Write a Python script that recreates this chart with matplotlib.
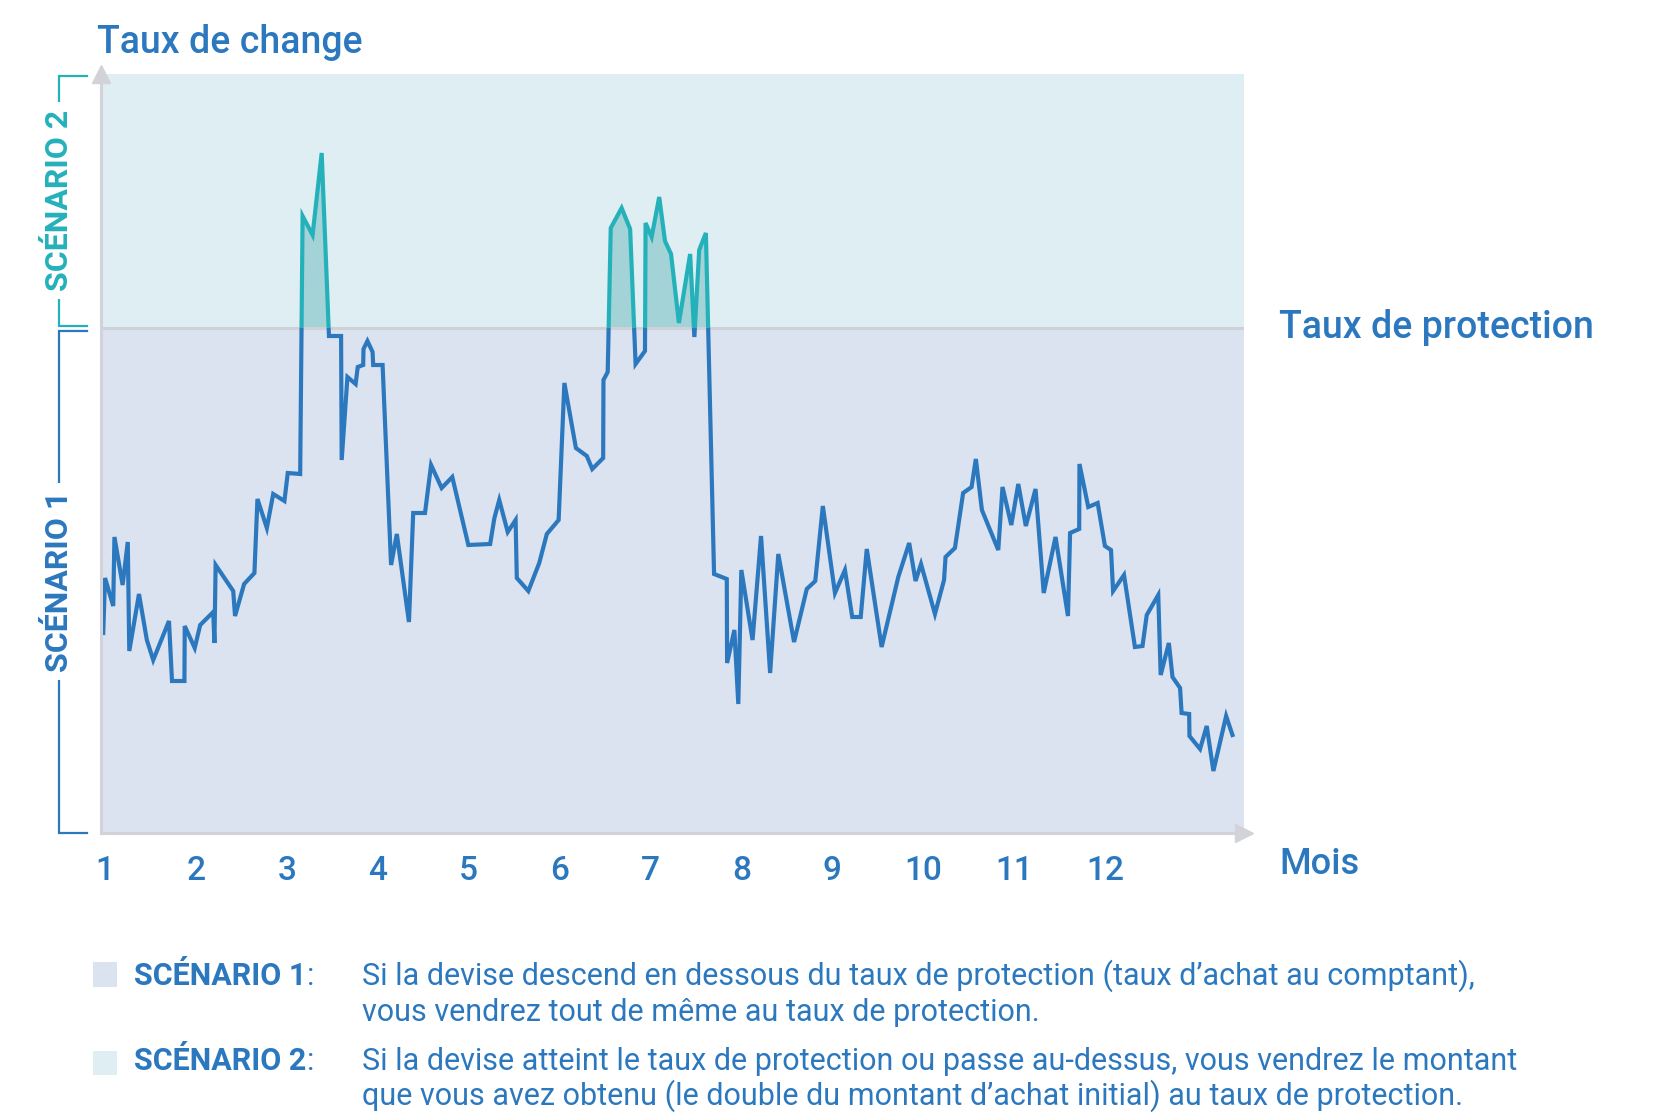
import matplotlib
matplotlib.use("Agg")
import matplotlib.pyplot as plt
from matplotlib.patches import Rectangle
import matplotlib.transforms as mtransforms
import numpy as np

plt.rcParams['font.family'] = ['Roboto', 'DejaVu Sans']

# ---------------- data ----------------
days = [-0.6, 0.0, 2.7, 3.1, 5.8, 7.5, 8.0, 11.2, 13.8, 15.9, 21.1, 22.1, 26.2, 26.3, 29.6,
        31.4, 35.7, 36.1, 36.5, 42.3, 42.9, 45.9, 49.3, 50.3, 53.4, 55.5, 59.2, 60.3, 64.4,
        65.2, 68.5, 71.5, 73.9, 77.9, 78.1, 80.0, 82.7, 83.4, 85.2, 85.3, 86.6, 88.3, 88.5,
        91.6, 94.4, 96.3, 100.3, 101.7, 105.6, 107.6, 111.1, 114.6, 119.9, 127.1, 128.5,
        130.1, 132.9, 135.5, 135.9, 139.7, 143.3, 145.8, 149.7, 151.6, 155.4, 159.0, 160.8,
        164.4, 164.5, 165.9, 166.9, 170.5, 173.3, 175.1, 178.2, 178.4, 180.4, 182.9, 184.8,
        186.8, 189.4, 193.1, 194.5, 196.1, 198.3, 201.0, 205.2, 205.3, 207.7, 209.0, 210.0,
        213.7, 216.5, 219.5, 222.2, 227.4, 231.6, 234.4, 236.9, 240.9, 244.2, 246.6, 249.4,
        251.4, 256.3, 261.8, 265.4, 267.5, 269.3, 273.9, 276.9, 277.4, 280.5, 283.2, 286.0,
        287.4, 289.4, 294.8, 296.2, 299.1, 301.4, 303.9, 307.1, 309.8, 313.7, 317.8, 318.5,
        321.5, 321.6, 324.5, 327.6, 330.0, 332.0, 332.7, 336.3, 339.9, 342.4, 343.8, 347.6,
        348.4, 351.1, 352.3, 354.8, 355.3, 357.8, 357.9, 361.4, 363.6, 365.8, 370.0, 372.1]

taux = [1.200, 1.255, 1.227, 1.296, 1.248, 1.291, 1.182, 1.239, 1.193, 1.173, 1.212, 1.152,
        1.152, 1.207, 1.185, 1.208, 1.221, 1.190, 1.268, 1.242, 1.217, 1.249, 1.260, 1.334,
        1.305, 1.339, 1.332, 1.360, 1.359, 1.617, 1.598, 1.680, 1.497, 1.497, 1.373, 1.456,
        1.449, 1.466, 1.468, 1.484, 1.492, 1.481, 1.468, 1.468, 1.268, 1.299, 1.211, 1.320,
        1.320, 1.368, 1.345, 1.356, 1.288, 1.289, 1.315, 1.333, 1.301, 1.313, 1.255, 1.242,
        1.270, 1.299, 1.313, 1.450, 1.385, 1.377, 1.364, 1.375, 1.453, 1.461, 1.605, 1.625,
        1.604, 1.469, 1.482, 1.610, 1.596, 1.636, 1.592, 1.579, 1.510, 1.579, 1.496, 1.583,
        1.600, 1.259, 1.254, 1.170, 1.203, 1.129, 1.263, 1.193, 1.297, 1.160, 1.279, 1.191,
        1.244, 1.252, 1.327, 1.240, 1.263, 1.216, 1.216, 1.284, 1.186, 1.256, 1.290, 1.252,
        1.269, 1.219, 1.253, 1.276, 1.285, 1.340, 1.346, 1.374, 1.323, 1.283, 1.346, 1.308,
        1.349, 1.307, 1.344, 1.240, 1.296, 1.217, 1.300, 1.304, 1.369, 1.326, 1.330, 1.287,
        1.283, 1.242, 1.258, 1.186, 1.187, 1.218, 1.238, 1.158, 1.190, 1.156, 1.145, 1.120,
        1.119, 1.097, 1.084, 1.107, 1.062, 1.117, 1.098]

taux_protection = 1.505
mois = [1, 2, 3, 4, 5, 6, 7, 8, 9, 10, 11, 12]
jours_par_mois = 30

titre_y = "Taux de change"
titre_protection = "Taux de protection"
titre_x = "Mois"
scenarios = ["SCÉNARIO 1", "SCÉNARIO 2"]
descriptions = [
    ["Si la devise descend en dessous du taux de protection (taux d\u2019achat au comptant),",
     "vous vendrez tout de même au taux de protection."],
    ["Si la devise atteint le taux de protection ou passe au-dessus, vous vendrez le montant",
     "que vous avez obtenu (le double du montant d\u2019achat initial) au taux de protection."],
]

# ---------------- style ----------------
BLUE = "#2C78BE"
TEAL = "#25B1BA"
FILL = "#A3D3D7"
BG_LOW = "#DBE2F0"
BG_HIGH = "#DFEEF2"
GRAY = "#D2D3D8"

W, H = 1653, 1120
fig = plt.figure(figsize=(W / 100, H / 100), dpi=100)
ax = fig.add_axes([100.5 / W, 1 - 833 / H, 1143.5 / W, 759 / H])

x = np.array(days)
y = np.array(taux)
xmin, xmax = -1.5, 375.9
ymin, ymax = 1.000, 1.759
ax.set_xlim(xmin, xmax)
ax.set_ylim(ymin, ymax)

ax.axhspan(ymin, taux_protection, color=BG_LOW, lw=0, zorder=0)
ax.axhspan(taux_protection, ymax, color=BG_HIGH, lw=0, zorder=0)

ax.fill_between(x, y, taux_protection, where=y > taux_protection, interpolate=True,
                color=FILL, lw=0, zorder=1)
ax.axhline(taux_protection, color="#CFD1D9", lw=2.2, zorder=2)

clip_low = Rectangle((xmin - 10, ymin - 1), xmax - xmin + 20, taux_protection - ymin + 1,
                     transform=ax.transData)
clip_high = Rectangle((xmin - 10, taux_protection), xmax - xmin + 20, 2,
                      transform=ax.transData)
l1, = ax.plot(x, y, color=BLUE, lw=3.0, solid_joinstyle='miter', zorder=3)
l1.set_clip_path(clip_low)
l2, = ax.plot(x, y, color=TEAL, lw=3.0, solid_joinstyle='miter', zorder=3)
l2.set_clip_path(clip_high)

# axes
for s in ["top", "right"]:
    ax.spines[s].set_visible(False)
for s in ["left", "bottom"]:
    ax.spines[s].set_color(GRAY)
    ax.spines[s].set_linewidth(2.2)
    ax.spines[s].set_zorder(4)
ax.plot([0], [1.0], marker="^", ms=13, color=GRAY, transform=ax.transAxes,
        clip_on=False, zorder=5)
ax.plot([1.0], [0], marker=">", ms=13, color=GRAY, transform=ax.transAxes,
        clip_on=False, zorder=5)

ax.set_yticks([])
ax.set_xticks([(m - 1) * jours_par_mois for m in mois])
ax.set_xticklabels([str(m) for m in mois], fontsize=24, color=BLUE, fontweight="medium")
ax.tick_params(axis="x", length=0, pad=15.5)

# texts
fig.text(96.7 / W, 1 - 53.3 / H, titre_y, fontsize=27, color=BLUE, fontweight="medium",
         va="baseline", ha="left")
fig.text(1279 / W, 1 - 338.3 / H, titre_protection, fontsize=27, color=BLUE,
         fontweight="medium", va="baseline", ha="left")
fig.text(1279 / W, 1 - 874.3 / H, titre_x, fontsize=26, color=BLUE, fontweight="medium",
         va="baseline", ha="left")

# scenario brackets (x in axes fraction, y in data)
tr = mtransforms.blended_transform_factory(ax.transAxes, ax.transData)
bx, bend = -0.036, -0.0115
gap = 0.0025
for (y0, y1, col, label) in [(ymin, taux_protection - gap, BLUE, scenarios[0]),
                             (taux_protection + gap, ymax - 0.002, TEAL, scenarios[1])]:
    ax.plot([bend, bx, bx, bend], [y0, y0, y1, y1], color=col, lw=1.6,
            transform=tr, clip_on=False, solid_joinstyle='miter')
    ax.text(bx, (y0 + y1) / 2, label, rotation=90, transform=tr, ha="center",
            va="center", fontsize=23, fontweight="bold", color=col,
            bbox=dict(boxstyle="square,pad=0.25", fc="white", ec="none"))

# legend
leg_cols = [BG_LOW, BG_HIGH]
sq_tops = [962, 1050.7]
baselines = [[985, 1020.7], [1070, 1105]]
for i in range(2):
    fig.patches.append(Rectangle((92.8 / W, 1 - (sq_tops[i] + 24.5) / H), 24.4 / W, 24.5 / H,
                                 transform=fig.transFigure, color=leg_cols[i], lw=0))
    t = fig.text(133.6 / W, 1 - baselines[i][0] / H, scenarios[i], fontsize=22,
                 fontweight="bold", color=BLUE, va="baseline", ha="left")
    ax.annotate(":", xy=(1, 0), xycoords=t, xytext=(1, 0), textcoords="offset points",
                fontsize=22, color=BLUE, va="bottom", ha="left")
    for j, line in enumerate(descriptions[i]):
        fig.text(362 / W, 1 - baselines[i][j] / H, line, fontsize=22, color=BLUE,
                 va="baseline", ha="left")

fig.savefig("out.png", dpi=100, facecolor="white")
